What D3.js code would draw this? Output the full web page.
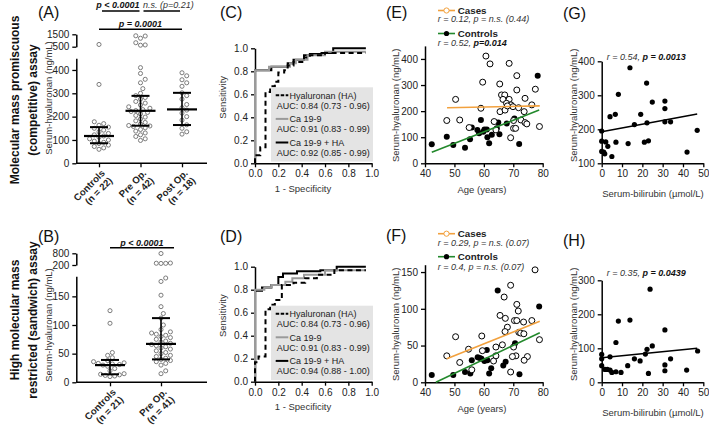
<!DOCTYPE html>
<html>
<head>
<meta charset="utf-8">
<script src="https://cdn.jsdelivr.net/npm/d3@7"></script>
<style>
  body { margin: 0; background: #fff; }
  svg { display: block; }
</style>
</head>
<body>
<div id="chart"></div>
<script>
// ---- A: competitive assay, dot plot ----
const groupsA = ['Controls', 'Pre Op.', 'Post Op.'];
const nLabelsA = ['(n = 22)', '(n = 42)', '(n = 18)'];
const controlsA = [680, 338, 178, 170, 163, 155, 150, 142, 135, 128, 122, 117, 112, 105, 100, 95, 90, 85, 78, 72, 66, 60];
const preOpA = [1380, 1360, 1180, 820, 640, 620, 410, 385, 360, 345, 320, 300, 290, 282, 275, 265, 258, 250, 242, 236,
  230, 226, 222, 218, 212, 205, 198, 190, 182, 175, 168, 162, 160, 158, 152, 145, 138, 130, 122, 115, 105, 98];
const postOpA = [388, 375, 358, 345, 330, 302, 290, 275, 252, 238, 228, 215, 200, 185, 165, 150, 135, 125];
const medianA = [117, 225, 231];
const q1A = [86, 161, 164];
const q3A = [155, 289, 302];

// ---- B: sandwich assay, dot plot ----
const groupsB = ['Controls', 'Pre Op.'];
const nLabelsB = ['(n = 21)', '(n = 41)'];
const controlsB = [125, 103, 52, 47, 43, 38, 36, 34, 33, 32, 31, 30, 28, 24, 20, 15, 14, 13, 12, 11, 10];
const preOpB = [790, 300, 290, 285, 280, 182, 176, 152, 132, 120, 112, 100, 92, 88, 86, 84, 82, 80, 78, 75, 72,
  70, 68, 66, 64, 62, 60, 58, 55, 52, 50, 47, 45, 42, 40, 38, 36, 33, 30, 20, 15];
const medianB = [30, 67];
const q1B = [14, 40];
const q3B = [39, 112];

// ---- C / D: ROC curves, [1 - specificity, sensitivity] ----
const rocHaC = [[0, 0], [0, 0.07], [0.045, 0.14], [0.09, 0.18], [0.09, 0.62], [0.13, 0.67], [0.17, 0.71], [0.2, 0.79],
  [0.25, 0.81], [0.28, 0.85], [0.33, 0.88], [0.42, 0.92], [0.47, 0.94], [0.6, 0.96], [0.95, 0.96]];
const rocCaC = [[0, 0], [0, 0.81], [0.12, 0.84], [0.3, 0.87], [0.35, 0.9], [0.45, 0.94], [0.6, 0.97], [0.95, 0.97]];
const rocBothC = [[0, 0], [0, 0.81], [0.14, 0.84], [0.28, 0.87], [0.33, 0.9], [0.42, 0.94], [0.47, 0.95], [0.57, 0.96],
  [0.67, 1], [0.95, 1]];
const rocHaD = [[0, 0], [0, 0.17], [0.03, 0.22], [0.09, 0.26], [0.09, 0.63], [0.13, 0.67], [0.17, 0.71], [0.23, 0.75],
  [0.23, 0.84], [0.33, 0.86], [0.43, 0.9], [0.53, 0.93], [0.68, 0.97], [0.95, 0.97]];
const rocCaD = [[0, 0], [0, 0.8], [0.08, 0.82], [0.14, 0.84], [0.26, 0.87], [0.32, 0.9], [0.42, 0.93], [0.6, 0.97], [0.95, 0.97]];
const rocBothD = [[0, 0], [0, 0.79], [0.06, 0.82], [0.14, 0.84], [0.2, 0.91], [0.24, 0.94], [0.36, 0.96], [0.56, 0.97],
  [0.7, 1], [0.95, 1]];
const rocNames = ['Hyaluronan (HA)', 'Ca 19-9', 'Ca 19-9 + HA'];
const aucC = ['AUC: 0.84 (0.73 - 0.96)', 'AUC: 0.91 (0.83 - 0.99)', 'AUC: 0.92 (0.85 - 0.99)'];
const aucD = ['AUC: 0.84 (0.73 - 0.96)', 'AUC: 0.91 (0.83 - 0.99)', 'AUC: 0.94 (0.88 - 1.00)'];

// ---- E / F: age vs hyaluronan ----
const casesAgeE = [60.7, 62.1, 68.6, 59.6, 50.4, 65.4, 71.2, 66.0, 67.1, 66.5, 68.6, 67.7, 69.2, 71.2, 74.0, 77.5, 76.3,
  69.9, 71.8, 65.5, 59.0, 47.4, 51.8, 55.0, 63.5, 73.7, 72.6, 74.0, 74.6, 70.1, 70.1, 70.8, 69.1, 78.9, 64.1, 67.2, 68.0];
const casesValE = [411, 381, 383, 311, 245, 304, 336, 262, 262, 245, 245, 230, 224, 281, 249, 284, 224,
  217, 213, 198, 211, 164, 166, 137, 160, 198, 166, 156, 151, 164, 134, 134, 98, 141, 128, 204, 220];
const controlsAgeE = [42.3, 47.4, 49.6, 53.6, 55.3, 55.9, 57.8, 58.4, 59.0, 60.2, 61.0, 61.2, 61.8, 62.7, 65.3, 64.9,
  67.8, 70.4, 72.0, 78.3, 59.8, 64.4];
const controlsValE = [73, 102, 70, 60, 92, 137, 128, 115, 166, 130, 130, 100, 77, 109, 111, 156, 153, 172, 74, 336, 121, 134];
const fitCasesE = [[47.5, 213], [79, 220]];
const fitControlsE = [[42.3, 42], [78.8, 204]];
const statsE = ['r = 0.12, p = n.s. (0.44)', 'r = 0.52, ', 'p=0.014'];

const casesAgeF = [77.4, 69.1, 66.9, 71.2, 71.7, 65.5, 67.3, 70.4, 71.2, 76.3, 73.5, 68.0, 67.2, 71.9, 72.5, 73.6, 59.3,
  50.4, 78.9, 66.3, 70.1, 54.8, 59.5, 64.1, 47.4, 64.1, 70.9, 69.7, 74.8, 73.7, 63.3, 51.8, 55.9, 69.1];
const casesValF = [153, 132, 116, 106, 97, 91, 87, 84, 84, 84, 82, 75, 69, 68, 67, 66, 63,
  62, 58, 51, 48, 45, 43, 48, 36, 36, 36, 35, 35, 30, 29, 27, 17, 14];
const controlsAgeF = [42.3, 49.6, 53.6, 55.4, 55.9, 57.9, 58.6, 59.2, 60.2, 61.0, 61.2, 61.8, 62.5, 64.7, 66.6, 67.4,
  70.6, 72.1, 78.8];
const controlsValF = [10, 10, 14, 12, 30, 34, 33, 32, 29, 44, 30, 12, 19, 125, 23, 28, 53, 11, 103];
const fitCasesF = [[47.4, 32], [79, 83]];
const fitControlsF = [[43.7, 0], [79, 67.5]];
const statsF = ['r = 0.29, p = n.s. (0.07)', 'r = 0.4, p = n.s. (0.07)', ''];

// ---- G / H: bilirubin vs hyaluronan ----
const bilG = [13.9, 22.1, 8.2, 24.9, 31.1, 31.1, 6.7, 4.1, 19.2, 16.1, 22.3, 31.1, 33.9, 47.0, 0, 0, 2, 1, 1.5, 3, 7, 5,
  13, 21, 23, 42, 0];
const haG = [381, 336, 303, 280, 283, 261, 244, 237, 244, 214, 219, 222, 222, 197, 195, 165, 163, 133, 128, 150, 162, 120,
  158, 162, 166, 133, 135];
const fitG = [[0, 193], [47, 245]];
const bilH = [23.8, 13.9, 8.2, 31.1, 7.0, 24.9, 22.3, 21.5, 47.2, 0, 4.1, 0, 16.1, 33.9, 18.9, 0, 12.8, 31.1, 1.6, 2.8,
  4.1, 31.1, 41.8, 9.5, 7, 23, 5];
const haH = [274, 183, 180, 154, 117, 107, 97, 83, 92, 82, 75, 69, 69, 69, 63, 49, 49, 51, 38, 38,
  36, 34, 36, 29, 31, 26, 29];
const fitH = [[0, 72], [47, 100]];

// ---------------------------------------------------------------
const FONT = '"Liberation Sans", Arial, Helvetica, sans-serif';
const ORANGE = '#f2a13e';
const GREEN = '#23892c';

const svg = d3.select('#chart').append('svg')
  .attr('width', 709)
  .attr('height', 426)
  .attr('font-family', FONT);

function styleAxis(g) {
  g.attr('font-family', FONT).attr('font-size', 10);
  g.select('.domain').attr('stroke', '#000').attr('stroke-width', 1.5);
  g.selectAll('.tick line').attr('stroke', '#000').attr('stroke-width', 1.3);
  g.selectAll('.tick text').attr('fill', '#222');
}

function addText(x, y, str, size, opts = {}) {
  return svg.append('text')
    .attr('x', x).attr('y', y)
    .attr('font-size', size)
    .attr('fill', opts.fill || '#111')
    .attr('font-weight', opts.weight || 'normal')
    .attr('font-style', opts.style || 'normal')
    .attr('text-anchor', opts.anchor || 'start')
    .text(str);
}

function vText(x, y, str, size, opts = {}) {
  return svg.append('text')
    .attr('transform', `translate(${x},${y}) rotate(-90)`)
    .attr('font-size', size)
    .attr('fill', opts.fill || '#222')
    .attr('font-weight', opts.weight || 'normal')
    .attr('text-anchor', 'middle')
    .text(str);
}

// simple beeswarm: offsets so the dots don't overlap
function swarm(ys, d) {
  const xs = new Array(ys.length);
  const placed = [];
  d3.range(ys.length).sort((a, b) => ys[b] - ys[a]).forEach(i => {
    for (let k = 0; k < 60; k++) {
      const c = k === 0 ? 0 : (k % 2 ? 1 : -1) * Math.ceil(k / 2) * d / 2;
      if (placed.every(p => Math.hypot(p[0] - c, p[1] - ys[i]) >= d)) {
        xs[i] = c;
        placed.push([c, ys[i]]);
        break;
      }
    }
  });
  return xs;
}

function dotPlot(cfg) {
  const x = d3.scalePoint().domain(cfg.groups).range(cfg.catRange);
  const yLo = d3.scaleLinear().domain(cfg.loDomain).range(cfg.loRange);
  const yHi = d3.scaleLinear().domain(cfg.hiDomain).range(cfg.hiRange);
  const yOf = v => v > cfg.loDomain[1] ? yHi(v) : yLo(v);
  const y0 = cfg.loRange[0];
  const fmt = d3.format('d');

  svg.append('g').attr('transform', `translate(${cfg.axisX},0)`)
    .call(d3.axisLeft(yLo).tickValues(cfg.loTicks).tickFormat(fmt).tickSizeInner(4).tickSizeOuter(0))
    .call(styleAxis);
  svg.append('g').attr('transform', `translate(${cfg.axisX},0)`)
    .call(d3.axisLeft(yHi).tickValues(cfg.hiDomain).tickFormat(fmt).tickSizeInner(4).tickSizeOuter(0))
    .call(styleAxis);

  svg.append('line')
    .attr('x1', cfg.axisX).attr('x2', cfg.axisEnd)
    .attr('y1', y0).attr('y2', y0)
    .attr('stroke', '#000').attr('stroke-width', 1.5);
  const xg = svg.append('g').attr('transform', `translate(0,${y0})`)
    .call(d3.axisBottom(x).tickSizeInner(4).tickSizeOuter(0).tickFormat(''))
    .call(styleAxis);
  xg.select('.domain').remove();

  cfg.groups.forEach((grp, gi) => {
    const lab = svg.append('text')
      .attr('transform', `translate(${x(grp) + 6.5},${y0 + 10.5}) rotate(-45)`)
      .attr('text-anchor', 'end')
      .attr('font-size', 9.6)
      .attr('font-weight', 'bold')
      .attr('fill', '#222');
    lab.append('tspan').attr('x', 0).text(grp);
    lab.append('tspan').attr('x', 0).attr('dy', '1.1em').text(cfg.nLabels[gi]);

    const vals = cfg.values[gi];
    const ys = vals.map(yOf);
    const offs = swarm(ys, 4.7);
    svg.append('g').selectAll('circle')
      .data(vals)
      .join('circle')
      .attr('cx', (d, i) => x(grp) + offs[i])
      .attr('cy', (d, i) => ys[i])
      .attr('r', 2.05)
      .attr('fill', '#fff')
      .attr('stroke', '#6e6e6e')
      .attr('stroke-width', 0.9);

    const cx = x(grp);
    const lines = [
      [cx, yOf(cfg.q1[gi]), cx, yOf(cfg.q3[gi]), 1.6],
      [cx - 9, yOf(cfg.q1[gi]), cx + 9, yOf(cfg.q1[gi]), 2],
      [cx - 9, yOf(cfg.q3[gi]), cx + 9, yOf(cfg.q3[gi]), 2],
      [cx - 15, yOf(cfg.median[gi]), cx + 15, yOf(cfg.median[gi]), 2.2]
    ];
    svg.append('g').selectAll('line')
      .data(lines)
      .join('line')
      .attr('x1', d => d[0]).attr('y1', d => d[1])
      .attr('x2', d => d[2]).attr('y2', d => d[3])
      .attr('stroke', '#000').attr('stroke-width', d => d[4]);
  });
  return x;
}

// ---------------- Panel A ----------------
const xA = dotPlot({
  groups: groupsA, nLabels: nLabelsA, values: [controlsA, preOpA, postOpA],
  median: medianA, q1: q1A, q3: q3A,
  catRange: [99, 182], axisX: 76.3, axisEnd: 207,
  loDomain: [0, 450], loRange: [163.3, 58.3], loTicks: [0, 100, 200, 300, 400],
  hiDomain: [500, 1500], hiRange: [46.7, 34.3]
});

function sigBar(x1, x2, y) {
  svg.append('line').attr('x1', x1).attr('x2', x2).attr('y1', y).attr('y2', y)
    .attr('stroke', '#000').attr('stroke-width', 1.5);
}
sigBar(xA('Controls') + 3, xA('Pre Op.') - 1, 11);
addText(xA('Pre Op.') - 1, 8.2, 'p < 0.0001', 9, { weight: 'bold', style: 'italic', anchor: 'end' });
sigBar(xA('Pre Op.') + 3, xA('Post Op.') - 2, 11);
addText(xA('Pre Op.') + 2.5, 8.2, 'n.s. (p=0.21)', 9, { style: 'italic', fill: '#333' });
sigBar(xA('Controls'), xA('Post Op.'), 29.3);
addText((xA('Controls') + xA('Post Op.')) / 2, 26.5, 'p = 0.0001', 9, { weight: 'bold', style: 'italic', anchor: 'middle' });

// ---------------- Panel B ----------------
const xB = dotPlot({
  groups: groupsB, nLabels: nLabelsB, values: [controlsB, preOpB],
  median: medianB, q1: q1B, q3: q3B,
  catRange: [110, 161], axisX: 76.3, axisEnd: 207,
  loDomain: [0, 185], loRange: [382.3, 276.3], loTicks: [0, 50, 100, 150],
  hiDomain: [200, 800], hiRange: [265, 253.3]
});
sigBar(xB('Controls'), xB('Pre Op.') + 13, 247.7);
addText((xB('Controls') + xB('Pre Op.') + 13) / 2, 245.8, 'p < 0.0001', 9, { weight: 'bold', style: 'italic', anchor: 'middle' });

vText(52.4, 98, 'Serum-hyaluronan (ng/mL)', 9.5, { fill: '#333' });
vText(52.4, 325, 'Serum-hyaluronan (ng/mL)', 9.5, { fill: '#333' });

// ---------------- Row titles ----------------
vText(19.3, 100, 'Molecular mass promiscuous', 12, { weight: 'bold', fill: '#111' });
vText(37.3, 100, '(competitive) assay', 12, { weight: 'bold', fill: '#111' });
vText(19.3, 320, 'High molecular mass', 12, { weight: 'bold', fill: '#111' });
vText(37.3, 320, 'restricted (sandwich) assay', 12, { weight: 'bold', fill: '#111' });

// ---------------- ROC panels ----------------
function rocPlot(y0, curves, auc) {
  const x = d3.scaleLinear().domain([0, 1]).range([255, 371.7]);
  const y = d3.scaleLinear().domain([0, 1]).range([y0, y0 - 115]);
  const fmt = d3.format('.1f');
  svg.append('g').attr('transform', `translate(0,${y0})`)
    .call(d3.axisBottom(x).tickValues(d3.range(0, 1.01, 0.2)).tickFormat(fmt).tickSizeInner(4).tickSizeOuter(0))
    .call(styleAxis);
  svg.append('g').attr('transform', `translate(255,0)`)
    .call(d3.axisLeft(y).tickValues(d3.range(0, 1.01, 0.2)).tickFormat(fmt).tickSizeInner(4).tickSizeOuter(0))
    .call(styleAxis);

  const line = d3.line().x(d => x(d[0])).y(d => y(d[1])).curve(d3.curveStepAfter);
  const styles = [
    { color: '#000', dash: '5,3.5' },
    { color: '#9a9a9a', dash: null },
    { color: '#000', dash: null }
  ];
  [2, 1, 0].forEach(i => {
    svg.append('path')
      .datum(curves[i])
      .attr('d', line)
      .attr('fill', 'none')
      .attr('stroke', styles[i].color)
      .attr('stroke-width', 2)
      .attr('stroke-dasharray', styles[i].dash);
  });

  svg.append('rect')
    .attr('x', 271).attr('y', y0 - 76)
    .attr('width', 102).attr('height', 74.3)
    .attr('fill', '#e4e4e4');
  rocNames.forEach((name, i) => {
    const ry = y0 - 68 + i * 23.6;
    svg.append('line')
      .attr('x1', 275.7).attr('x2', 288.3).attr('y1', ry).attr('y2', ry)
      .attr('stroke', styles[i].color).attr('stroke-width', 2)
      .attr('stroke-dasharray', i === 0 ? '3.5,1.5' : null);
    addText(289.5, ry + 3.2, name, 9, { fill: '#222' });
    addText(276.7, ry + 13.5, auc[i], 9, { fill: '#222' });
  });

  vText(226, y0 - 66, 'Sensitivity', 9.5, { fill: '#333' });
  addText(303, y0 + 28.2, '1 - Specificity', 9.5, { fill: '#333', anchor: 'middle' });
}
rocPlot(163.3, [rocHaC, rocCaC, rocBothC], aucC);
rocPlot(381.7, [rocHaD, rocCaD, rocBothD], aucD);

// ---------------- Age scatter (E, F) ----------------
function agePlot(cfg) {
  const x = d3.scaleLinear().domain([40, 80]).range([425, 542.7]);
  const y = d3.scaleLinear().domain(cfg.yDomain).range([cfg.y0, cfg.y0 - cfg.yLen]);
  svg.append('g').attr('transform', `translate(0,${cfg.y0})`)
    .call(d3.axisBottom(x).tickValues(d3.range(40, 81, 10)).tickSizeInner(4).tickSizeOuter(0))
    .call(styleAxis);
  svg.append('g').attr('transform', `translate(425,0)`)
    .call(d3.axisLeft(y).tickValues(cfg.yTicks).tickSizeInner(4).tickSizeOuter(0))
    .call(styleAxis);

  svg.append('g').selectAll('circle')
    .data(d3.zip(cfg.cAge, cfg.cVal))
    .join('circle')
    .attr('cx', d => x(d[0])).attr('cy', d => y(d[1])).attr('r', 3)
    .attr('fill', '#000');
  svg.append('g').selectAll('circle')
    .data(d3.zip(cfg.pAge, cfg.pVal))
    .join('circle')
    .attr('cx', d => x(d[0])).attr('cy', d => y(d[1])).attr('r', 3)
    .attr('fill', '#fff').attr('stroke', '#000').attr('stroke-width', 1);

  const line = d3.line().x(d => x(d[0])).y(d => y(d[1]));
  [[cfg.fitCases, ORANGE], [cfg.fitControls, GREEN]].forEach(([pts, col]) => {
    svg.append('path').datum(pts).attr('d', line)
      .attr('fill', 'none').attr('stroke', col).attr('stroke-width', 1.6);
  });

  // legend
  const ly = cfg.legendY;
  svg.append('line').attr('x1', 438).attr('x2', 455).attr('y1', ly).attr('y2', ly)
    .attr('stroke', ORANGE).attr('stroke-width', 1.6);
  svg.append('circle').attr('cx', 446.5).attr('cy', ly).attr('r', 2.6)
    .attr('fill', '#fff').attr('stroke', ORANGE).attr('stroke-width', 1);
  addText(457.7, ly + 3.3, 'Cases', 9.8, { weight: 'bold', fill: '#222' });
  addText(437.7, ly + 11.8, cfg.stats[0], 9, { style: 'italic', fill: '#333' });

  const ly2 = ly + 23;
  svg.append('line').attr('x1', 438).attr('x2', 455).attr('y1', ly2).attr('y2', ly2)
    .attr('stroke', GREEN).attr('stroke-width', 1.6);
  svg.append('circle').attr('cx', 446.5).attr('cy', ly2).attr('r', 2.6).attr('fill', '#000');
  addText(457.7, ly2 + 3.3, 'Controls', 9.8, { weight: 'bold', fill: '#222' });
  const st = addText(437.7, ly2 + 12.9, cfg.stats[1], 9, { style: 'italic', fill: '#333' });
  st.append('tspan').attr('font-weight', 'bold').attr('fill', '#111').text(cfg.stats[2]);

  vText(399, cfg.y0 - 58, 'Serum-hyaluronan (ng/mL)', 9.5, { fill: '#333' });
  addText(482, cfg.y0 + 30, 'Age (years)', 9.5, { fill: '#333', anchor: 'middle' });
}
agePlot({
  y0: 163.3, yDomain: [0, 450], yLen: 117.4, yTicks: [0, 100, 200, 300, 400],
  pAge: casesAgeE, pVal: casesValE, cAge: controlsAgeE, cVal: controlsValE,
  fitCases: fitCasesE, fitControls: fitControlsE, stats: statsE, legendY: 10.5
});
agePlot({
  y0: 382.3, yDomain: [0, 160], yLen: 117.6, yTicks: [0, 50, 100, 150],
  pAge: casesAgeF, pVal: casesValF, cAge: controlsAgeF, cVal: controlsValF,
  fitCases: fitCasesF, fitControls: fitControlsF, stats: statsF, legendY: 233.7
});

// ---------------- Bilirubin scatter (G, H) ----------------
function bilPlot(cfg) {
  const x = d3.scaleLinear().domain([0, 50]).range([601.7, 703.3]);
  const y = d3.scaleLinear().domain(cfg.yDomain).range([cfg.y0, cfg.y0 - 102]);
  svg.append('g').attr('transform', `translate(0,${cfg.y0})`)
    .call(d3.axisBottom(x).tickValues(d3.range(0, 51, 10)).tickSizeInner(4).tickSizeOuter(0))
    .call(styleAxis);
  svg.append('g').attr('transform', `translate(601.7,0)`)
    .call(d3.axisLeft(y).tickValues(cfg.yTicks).tickSizeInner(4).tickSizeOuter(0))
    .call(styleAxis);

  svg.append('g').selectAll('circle')
    .data(d3.zip(cfg.bil, cfg.ha))
    .join('circle')
    .attr('cx', d => x(d[0])).attr('cy', d => y(d[1])).attr('r', 2.6)
    .attr('fill', '#000');
  svg.append('path').datum(cfg.fit)
    .attr('d', d3.line().x(d => x(d[0])).y(d => y(d[1])))
    .attr('fill', 'none').attr('stroke', '#000').attr('stroke-width', 1.5);

  const t = addText(606.7, cfg.statY, cfg.stats[0], 9, { style: 'italic', fill: '#333' });
  t.append('tspan').attr('font-weight', 'bold').attr('fill', '#111').text(cfg.stats[1]);

  vText(576.5, cfg.y0 - 58, 'Serum-hyaluronan (ng/mL)', 9.5, { fill: '#333' });
  addText(653, cfg.y0 + 34, 'Serum-bilirubin (\u00b5mol/L)', 9.5, { fill: '#333', anchor: 'middle' });
}
bilPlot({ y0: 163.3, yDomain: [100, 400], yTicks: [100, 200, 300, 400], bil: bilG, ha: haG, fit: fitG,
  stats: ['r = 0.54, ', 'p = 0.0013'], statY: 60 });
bilPlot({ y0: 382.3, yDomain: [0, 300], yTicks: [0, 100, 200, 300], bil: bilH, ha: haH, fit: fitH,
  stats: ['r = 0.35, ', 'p = 0.0439'], statY: 275.5 });

// ---------------- Panel letters ----------------
const panelLetters = [['(A)', 38, 18], ['(B)', 38, 242], ['(C)', 220, 18], ['(D)', 220, 242],
  ['(E)', 386, 17.5], ['(F)', 386, 240.5], ['(G)', 563, 19], ['(H)', 563, 245.5]];
panelLetters.forEach(([s, x, y]) => addText(x, y, s, 16, { fill: '#111' }));
</script>
</body>
</html>
